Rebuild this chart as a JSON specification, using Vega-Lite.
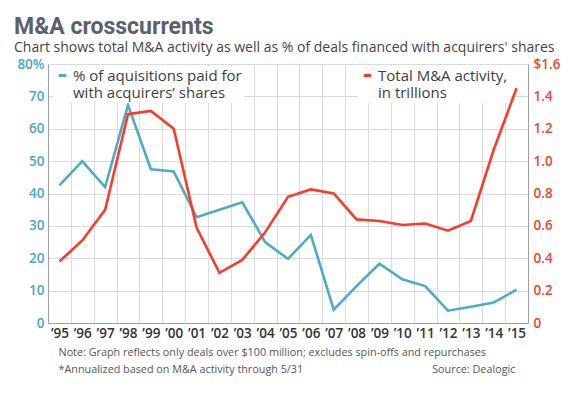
{
  "$schema": "https://vega.github.io/schema/vega-lite/v6.json",
  "width": 480,
  "height": 259,
  "autosize": {"type": "none"},
  "padding": {"left": 48, "top": 64, "right": 41, "bottom": 75},
  "background": "white",
  "title": {
    "text": "M&A crosscurrents",
    "subtitle": "Chart shows total M&A activity as well as % of deals financed with acquirers' shares",
    "anchor": "start",
    "frame": "group",
    "dx": -34,
    "font": "Roboto",
    "fontSize": 23,
    "fontWeight": "bold",
    "color": "#59616d",
    "subtitleFont": "Open Sans",
    "subtitleFontSize": 14,
    "subtitleColor": "#444444",
    "subtitlePadding": 2,
    "offset": 2
  },
  "config": {"view": {"stroke": null}},
  "data": {
    "values": [
      {"yr": "’95", "pct": 42.5, "total": 0.38},
      {"yr": "’96", "pct": 50, "total": 0.51},
      {"yr": "’97", "pct": 42, "total": 0.70},
      {"yr": "’98", "pct": 67.3, "total": 1.29},
      {"yr": "’99", "pct": 47.5, "total": 1.31},
      {"yr": "’00", "pct": 46.8, "total": 1.20},
      {"yr": "’01", "pct": 32.7, "total": 0.59},
      {"yr": "’02", "pct": 35, "total": 0.31},
      {"yr": "’03", "pct": 37.3, "total": 0.39},
      {"yr": "’04", "pct": 25, "total": 0.56},
      {"yr": "’05", "pct": 19.8, "total": 0.78},
      {"yr": "’06", "pct": 27.2, "total": 0.825},
      {"yr": "’07", "pct": 4.1, "total": 0.80},
      {"yr": "’08", "pct": 11.4, "total": 0.64},
      {"yr": "’09", "pct": 18.3, "total": 0.63},
      {"yr": "’10", "pct": 13.5, "total": 0.605},
      {"yr": "’11", "pct": 11.4, "total": 0.615},
      {"yr": "’12", "pct": 3.8, "total": 0.57},
      {"yr": "’13", "pct": 5, "total": 0.63},
      {"yr": "’14", "pct": 6.3, "total": 1.07},
      {"yr": "’15", "pct": 10.3, "total": 1.45}
    ]
  },
  "encoding": {
    "x": {
      "field": "yr",
      "type": "ordinal",
      "sort": null,
      "bandPosition": 0.5,
      "scale": {"type": "band", "paddingInner": 0, "paddingOuter": 0},
      "axis": {
        "title": ["Note: Graph reflects only deals over $100 million; excludes spin-offs and repurchases", "*Annualized based on M&A activity through 5/31\u00a0\u00a0\u00a0\u00a0\u00a0\u00a0\u00a0\u00a0\u00a0\u00a0\u00a0\u00a0\u00a0\u00a0\u00a0\u00a0\u00a0\u00a0\u00a0\u00a0\u00a0\u00a0\u00a0\u00a0\u00a0\u00a0\u00a0\u00a0\u00a0\u00a0\u00a0\u00a0\u00a0\u00a0\u00a0\u00a0\u00a0\u00a0\u00a0\u00a0\u00a0\u00a0\u00a0\u00a0\u00a0\u00a0Source: Dealogic"],
        "titleFont": "Open Sans",
        "titleFontWeight": "normal",
        "titleFontSize": 10.8,
        "titleColor": "#555555",
        "titleAnchor": "start",
        "titleAlign": "left",
        "titleBaseline": "top",
        "titleX": 10,
        "titleY": 23,
        "titleLineHeight": 17,
        "labelFont": "Open Sans",
        "labelFontWeight": 600,
        "labelFontSize": 13.5,
        "labelColor": "#333333",
        "labelAngle": 0,
        "labelPadding": 3,
        "ticks": false,
        "domain": true,
        "domainColor": "#9aa0a8",
        "grid": true,
        "gridColor": "#d8dbe0",
        "tickBand": "extent"
      }
    }
  },
  "layer": [
    {
      "mark": {"type": "line", "strokeWidth": 2.6, "strokeJoin": "miter"},
      "encoding": {
        "y": {
          "field": "pct",
          "type": "quantitative",
          "scale": {"domain": [0, 80], "nice": false},
          "axis": {
            "title": null,
            "values": [0, 10, 20, 30, 40, 50, 60, 70, 80],
            "labelExpr": "datum.value == 80 ? '80%' : datum.label",
            "labelFont": "Open Sans",
            "labelFontWeight": 600,
            "labelFontSize": 13.5,
            "labelColor": "#4aa6cc",
            "labelPadding": 4,
            "ticks": false,
            "domain": true,
            "domainColor": "#9aa0a8",
            "grid": true,
            "gridColor": "#d8dbe0"
          }
        },
        "color": {
          "datum": "% of aquisitions paid for|with acquirers’ shares",
          "scale": {"range": ["#4eaac9"]},
          "legend": {
            "title": null,
            "orient": "none",
            "legendX": 5,
            "legendY": 2,
            "fillColor": "white",
            "padding": 2,
            "symbolType": "stroke",
            "symbolStrokeWidth": 3,
            "symbolSize": 56,
            "labelFont": "Open Sans",
            "labelFontSize": 15,
            "labelColor": "#3d3d3d",
            "labelLimit": 400,
            "labelOffset": 3,
            "labelExpr": "split(datum.label, '|')",
            "encoding": {"labels": {"update": {"lineHeight": {"value": 15}}}}
          }
        }
      }
    },
    {
      "mark": {"type": "line", "strokeWidth": 2.6, "strokeJoin": "miter"},
      "encoding": {
        "y": {
          "field": "total",
          "type": "quantitative",
          "scale": {"domain": [0, 1.6], "nice": false},
          "axis": {
            "title": null,
            "orient": "right",
            "values": [0, 0.2, 0.4, 0.6, 0.8, 1.0, 1.2, 1.4, 1.6],
            "labelExpr": "datum.value == 0 ? '0' : (datum.value > 1.59 ? '$1.6' : format(datum.value, '.1f'))",
            "labelFont": "Open Sans",
            "labelFontWeight": 600,
            "labelFontSize": 13.5,
            "labelColor": "#f5412e",
            "labelPadding": 5,
            "ticks": false,
            "domain": true,
            "domainColor": "#9aa0a8",
            "grid": false
          }
        },
        "color": {
          "datum": "Total M&A activity,|in trillions",
          "scale": {"range": ["#fb3b27"]},
          "legend": {
            "title": null,
            "orient": "none",
            "legendX": 310,
            "legendY": 2,
            "fillColor": "white",
            "padding": 2,
            "symbolType": "stroke",
            "symbolStrokeWidth": 3,
            "symbolSize": 56,
            "labelFont": "Open Sans",
            "labelFontSize": 15,
            "labelColor": "#3d3d3d",
            "labelLimit": 400,
            "labelOffset": 3,
            "labelExpr": "split(datum.label, '|')",
            "encoding": {"labels": {"update": {"lineHeight": {"value": 15}}}}
          }
        }
      }
    }
  ],
  "resolve": {"scale": {"y": "independent", "color": "independent"}}
}
